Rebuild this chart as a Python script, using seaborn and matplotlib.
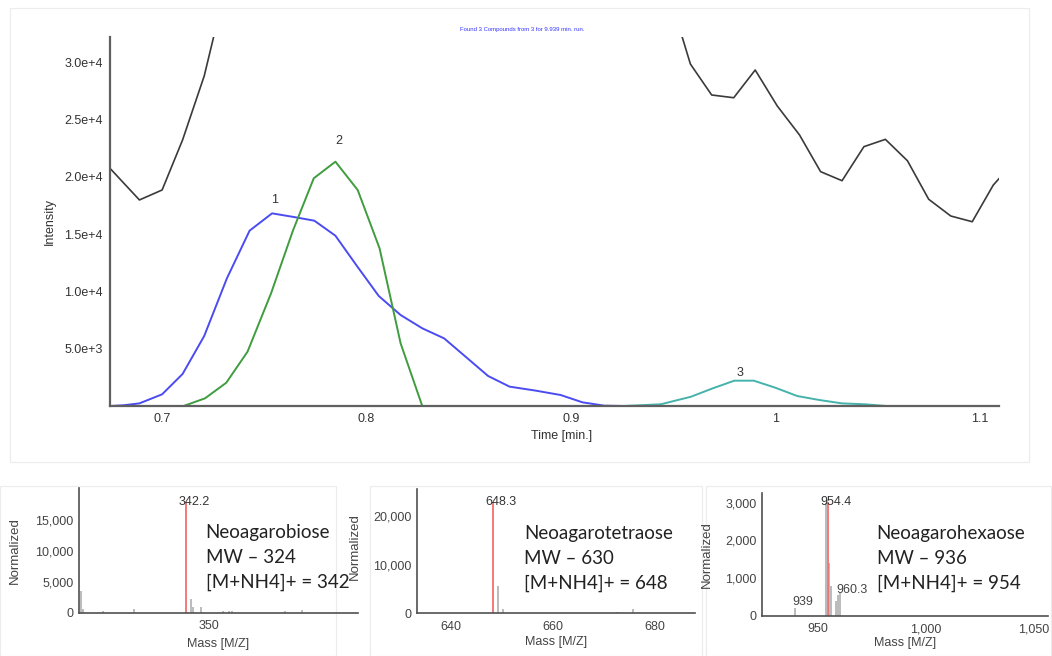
import math

import matplotlib.pyplot as plt
import seaborn as sns
from matplotlib.patches import Rectangle
from matplotlib.ticker import FuncFormatter

# ---- chromatogram traces (time in min, intensity) -------------------------
t_tic = [0.6745, 0.6889, 0.700, 0.710, 0.7206, 0.7317, 0.948, 0.9585, 0.9689, 0.9797,
         0.9902, 1.001, 1.0119, 1.0222, 1.0327, 1.0434, 1.0539, 1.0647, 1.0751, 1.0859,
         1.0964, 1.1067, 1.1101]
i_tic = [20740, 17980, 18850, 23210, 28800, 37000, 36000, 29840, 27140, 26900,
         29320, 26180, 23650, 20450, 19660, 22630, 23270, 21400, 18040, 16580,
         16080, 19280, 19960]

t_c1 = [0.6745, 0.681, 0.6889, 0.700, 0.710, 0.7206, 0.7317, 0.7428, 0.7538, 0.7642,
        0.7745, 0.7848, 0.7954, 0.806, 0.8167, 0.8273, 0.838, 0.8485, 0.8595, 0.870,
        0.8825, 0.895, 0.9057, 0.9163, 0.926, 0.957]
i_c1 = [0, 60, 230, 1020, 2790, 6110, 11140, 15300, 16810, 16500,
        16170, 14860, 12200, 9600, 7940, 6780, 5900, 4300, 2620, 1690,
        1350, 960, 320, 30, 0, 0]

t_c2 = [0.6745, 0.7105, 0.721, 0.7314, 0.7418, 0.7533, 0.764, 0.7742, 0.7848, 0.7957,
        0.8064, 0.8167, 0.8273, 0.86]
i_c2 = [0, 0, 670, 2030, 4740, 9830, 15300, 19870, 21320, 18850,
        13760, 5470, 0, 0]

t_c3 = [0.926, 0.944, 0.9588, 0.9694, 0.980, 0.9895, 1.0, 1.0108, 1.0217, 1.0327,
        1.0438, 1.0544, 1.0745]
i_c3 = [0, 150, 810, 1540, 2210, 2210, 1600, 870, 520, 230,
        150, 0, 0]

peak_ids = ["1", "2", "3"]
peak_t = [0.7548, 0.7863, 0.9828]
peak_i = [17980, 23120, 2880]
y_ticks_top = [5000, 10000, 15000, 20000, 25000, 30000]
x_ticks_top = [0.7, 0.8, 0.9, 1.0, 1.1]
x_tick_labels_top = ["0.7", "0.8", "0.9", "1", "1.1"]

# ---- mass spectra ---------------------------------------------------------
names = ["Neoagarobiose", "Neoagarotetraose", "Neoagarohexaose"]
mw = [324, 630, 936]
adduct = [342, 648, 954]

ms1_mz = [307.7, 308.4, 314.8, 325.2, 343.9, 344.5, 347.2, 354.6, 356.3, 357.4, 375.0, 380.5]
ms1_int = [3550, 600, 200, 550, 2160, 870, 920, 200, 200, 300, 200, 400]
ms1_base = (342.2, 17900)

ms2_mz = [649.3, 650.2, 672.6, 675.6]
ms2_int = [5600, 800, 200, 900]
ms2_base = (648.3, 22900)

ms3_mz = [939.0, 953.6, 955.2, 956.1, 958.4, 959.4, 960.3]
ms3_int = [196, 3000, 1390, 790, 400, 550, 595]
ms3_base = (954.4, 3020)
ms3_minor_labels = [("939", 939.0, 196, -2, 0), ("960.3", 960.3, 595, -4, -3)]

sns.set_theme(style="white")
plt.rcParams["font.family"] = ["Liberation Sans", "DejaVu Sans"]

fig = plt.figure(figsize=(10.52, 6.56), dpi=100)
W, H = 1052, 656


def frac(x0, y0, x1, y1):
    return [x0 / W, 1 - y1 / H, (x1 - x0) / W, (y1 - y0) / H]


# faint panel frames, kept behind the axes
for x0, y0, x1, y1 in [(10, 8, 1029, 462), (0, 486, 336, 656), (370, 486, 702, 656),
                       (706, 486, 1051, 656)]:
    fig.add_artist(Rectangle((x0 / W, 1 - y1 / H), (x1 - x0) / W, (y1 - y0) / H,
                             transform=fig.transFigure, fill=False, ec="#ececec", lw=0.8,
                             zorder=-1))

# ---- top: chromatogram ----------------------------------------------------
ax = fig.add_axes(frac(110, 37, 999, 406))
ax.patch.set_alpha(0)
traces = [(t_tic, i_tic, "#3a3a3a", 1.2), (t_c1, i_c1, "#4b4bf2", 1.4),
          (t_c2, i_c2, "#3f9c3f", 1.4), (t_c3, i_c3, "#45b3ab", 1.4)]
for t, y, c, lw in traces:
    sns.lineplot(x=t, y=y, ax=ax, color=c, lw=lw, sort=False, estimator=None)
for lab, t, y in zip(peak_ids, peak_t, peak_i):
    ax.text(t, y, lab, ha="center", va="center", fontsize=9, color="#333333")

ax.set_xlim(0.6745, 1.1095)
ax.set_ylim(0, 32200)
ax.set_xticks(x_ticks_top, x_tick_labels_top)
ax.set_yticks(y_ticks_top)


def sci(v, _):
    e = int(math.floor(math.log10(v)))
    return f"{v / 10 ** e:.1f}e+{e}"


ax.yaxis.set_major_formatter(FuncFormatter(sci))
ax.tick_params(length=0, labelsize=9, colors="#333333", pad=5)
for s in ["top", "right"]:
    ax.spines[s].set_visible(False)
for s in ["left", "bottom"]:
    ax.spines[s].set_color("#606060")
    ax.spines[s].set_linewidth(1.6)
ax.set_xlabel("Time [min.]", fontsize=9, color="#333333")
ax.set_ylabel("Intensity", fontsize=9, color="#333333")
ax.xaxis.set_label_coords(0.508, -0.065)
ax.yaxis.set_label_coords(-0.061, 0.5)
ax.text(0.4635, 1.02, "Found 3 Compounds from 3 for 9.939 min. run.", transform=ax.transAxes,
        ha="center", va="center", fontsize=4.3, color="#3535ff")

# ---- bottom: spectra ------------------------------------------------------
specs = [
    dict(box=(79, 488, 358, 612.7), xlim=(307, 399), ylim=(0, 20100), xt=[350],
         yt=[0, 5000, 10000, 15000], mz=ms1_mz, it=ms1_int, base=ms1_base,
         ylab=(-0.208, 0.5), xlab=-0.2, txt=(0.454, 0.714), minor=[]),
    dict(box=(417.3, 489, 695, 613.3), xlim=(633.5, 687.8), ylim=(0, 25500), xt=[640, 660, 680],
         yt=[0, 10000, 20000], mz=ms2_mz, it=ms2_int, base=ms2_base,
         ylab=(-0.203, 0.54), xlab=-0.185, txt=(0.384, 0.713), minor=[]),
    dict(box=(762.3, 492.7, 1048, 615.7), xlim=(924, 1056.8), ylim=(0, 3260), xt=[950, 1000, 1050],
         yt=[0, 1000, 2000, 3000], mz=ms3_mz, it=ms3_int, base=ms3_base,
         ylab=(-0.173, 0.5), xlab=-0.175, txt=(0.40, 0.735), minor=ms3_minor_labels),
]

for k, sp in enumerate(specs):
    bx = fig.add_axes(frac(*sp["box"]))
    bx.patch.set_alpha(0)
    bx.vlines(sp["mz"], 0, sp["it"], color="#a8a8a8", lw=1.1)
    bmz, bint = sp["base"]
    bx.vlines([bmz], 0, [bint], color="#f07070", lw=1.3)
    bx.annotate(f"{bmz:.1f}", (bmz, bint), xytext=(-5.2, 0), textcoords="offset points",
                ha="left", va="center", fontsize=9, color="#333333")
    for lab, m, v, dx, dy in sp["minor"]:
        bx.annotate(lab, (m, v), xytext=(dx / 1.39, dy / 1.39), textcoords="offset points",
                    ha="left", va="bottom", fontsize=9, color="#444444")
    bx.set_xlim(*sp["xlim"])
    bx.set_ylim(*sp["ylim"])
    bx.set_xticks(sp["xt"])
    bx.set_yticks(sp["yt"])
    bx.xaxis.set_major_formatter(FuncFormatter(lambda v, _: f"{v:,.0f}"))
    bx.yaxis.set_major_formatter(FuncFormatter(lambda v, _: f"{v:,.0f}"))
    bx.tick_params(axis="x", length=2.5, width=0.8, color="#888888", labelsize=9,
                   labelcolor="#444444", pad=3)
    bx.tick_params(axis="y", length=0, labelsize=9, labelcolor="#444444", pad=4)
    for s in ["top", "right"]:
        bx.spines[s].set_visible(False)
    for s in ["left", "bottom"]:
        bx.spines[s].set_color("#505050")
        bx.spines[s].set_linewidth(1.2)
    bx.set_xlabel("Mass [M/Z]", fontsize=9, color="#444444")
    bx.set_ylabel("Normalized", fontsize=9.5, color="#444444")
    bx.xaxis.set_label_coords(0.5, sp["xlab"])
    bx.yaxis.set_label_coords(*sp["ylab"])
    bx.text(*sp["txt"], f"{names[k]}\nMW \u2013 {mw[k]}\n[M+NH4]+ = {adduct[k]}",
            transform=bx.transAxes, ha="left", va="top", fontsize=13.5,
            family=["Lato", "DejaVu Sans"], color="#222222", linespacing=1.56)

fig.savefig("out.png", dpi=100)
